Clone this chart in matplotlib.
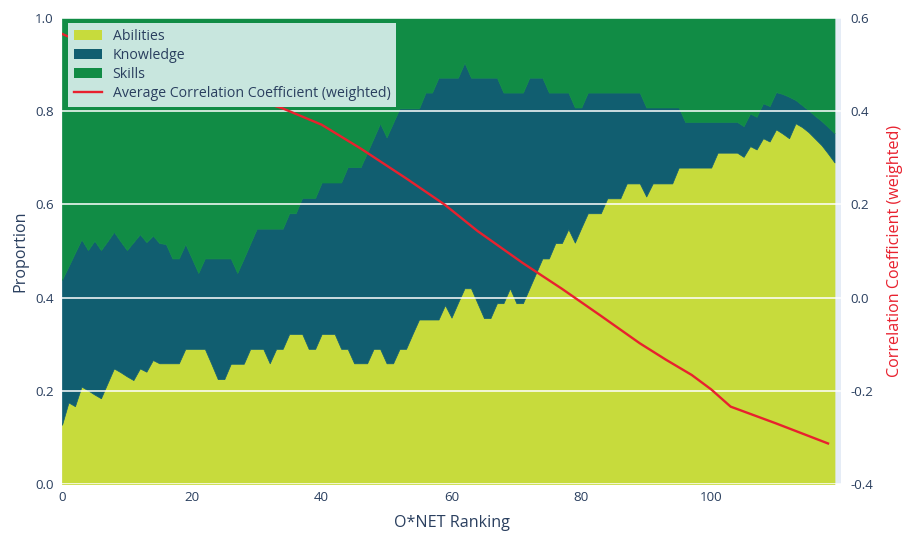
import numpy as np
import matplotlib
matplotlib.use("Agg")
import matplotlib.pyplot as plt
from matplotlib.patches import Patch
from matplotlib.lines import Line2D

plt.rcParams['font.family'] = ['Open Sans', 'DejaVu Sans']

# O*NET ranking positions
ranking = list(range(120))

# Share of each category within the ranking window
abilities = [
    0.127, 0.175, 0.167, 0.209, 0.201, 0.192, 0.184, 0.216, 0.248, 0.240,
    0.231, 0.223, 0.248, 0.241, 0.266, 0.259, 0.259, 0.259, 0.259, 0.290,
    0.290, 0.290, 0.290, 0.258, 0.225, 0.225, 0.258, 0.258, 0.258, 0.290,
    0.290, 0.290, 0.259, 0.290, 0.290, 0.322, 0.322, 0.322, 0.290, 0.290,
    0.322, 0.322, 0.322, 0.290, 0.290, 0.259, 0.259, 0.259, 0.290, 0.290,
    0.259, 0.259, 0.290, 0.290, 0.322, 0.353, 0.353, 0.353, 0.353, 0.384,
    0.357, 0.389, 0.420, 0.420, 0.388, 0.356, 0.356, 0.388, 0.388, 0.420,
    0.388, 0.388, 0.420, 0.452, 0.484, 0.484, 0.517, 0.517, 0.547, 0.518,
    0.550, 0.581, 0.581, 0.581, 0.613, 0.613, 0.613, 0.645, 0.645, 0.645,
    0.617, 0.645, 0.645, 0.645, 0.645, 0.679, 0.679, 0.679, 0.679, 0.679,
    0.679, 0.711, 0.711, 0.711, 0.711, 0.702, 0.725, 0.718, 0.742, 0.735,
    0.761, 0.752, 0.742, 0.774, 0.766, 0.755, 0.741, 0.727, 0.709, 0.690,
]

knowledge = [
    0.311, 0.292, 0.329, 0.316, 0.301, 0.330, 0.318, 0.305, 0.293, 0.281,
    0.271, 0.296, 0.288, 0.278, 0.267, 0.258, 0.256, 0.225, 0.225, 0.225,
    0.194, 0.163, 0.194, 0.226, 0.259, 0.259, 0.226, 0.195, 0.226, 0.226,
    0.258, 0.258, 0.289, 0.258, 0.258, 0.259, 0.259, 0.292, 0.324, 0.324,
    0.325, 0.325, 0.325, 0.357, 0.390, 0.421, 0.421, 0.452, 0.452, 0.484,
    0.485, 0.516, 0.516, 0.516, 0.484, 0.453, 0.487, 0.487, 0.519, 0.488,
    0.515, 0.483, 0.484, 0.452, 0.484, 0.516, 0.516, 0.484, 0.452, 0.420,
    0.452, 0.452, 0.452, 0.420, 0.388, 0.356, 0.323, 0.323, 0.293, 0.290,
    0.258, 0.259, 0.259, 0.259, 0.227, 0.227, 0.227, 0.195, 0.195, 0.195,
    0.191, 0.163, 0.163, 0.163, 0.163, 0.129, 0.098, 0.098, 0.098, 0.098,
    0.098, 0.066, 0.066, 0.066, 0.066, 0.066, 0.070, 0.070, 0.075, 0.076,
    0.080, 0.085, 0.089, 0.050, 0.047, 0.047, 0.049, 0.052, 0.057, 0.063,
]

skills = [
    0.562, 0.533, 0.504, 0.475, 0.498, 0.478, 0.498, 0.479, 0.459, 0.479,
    0.498, 0.481, 0.464, 0.481, 0.467, 0.483, 0.485, 0.516, 0.516, 0.485,
    0.516, 0.547, 0.516, 0.516, 0.516, 0.516, 0.516, 0.547, 0.516, 0.484,
    0.452, 0.452, 0.452, 0.452, 0.452, 0.419, 0.419, 0.386, 0.386, 0.386,
    0.353, 0.353, 0.353, 0.353, 0.320, 0.320, 0.320, 0.289, 0.258, 0.226,
    0.256, 0.225, 0.194, 0.194, 0.194, 0.194, 0.160, 0.160, 0.128, 0.128,
    0.128, 0.128, 0.096, 0.128, 0.128, 0.128, 0.128, 0.128, 0.160, 0.160,
    0.160, 0.160, 0.128, 0.128, 0.128, 0.160, 0.160, 0.160, 0.160, 0.192,
    0.192, 0.160, 0.160, 0.160, 0.160, 0.160, 0.160, 0.160, 0.160, 0.160,
    0.192, 0.192, 0.192, 0.192, 0.192, 0.192, 0.223, 0.223, 0.223, 0.223,
    0.223, 0.223, 0.223, 0.223, 0.223, 0.232, 0.205, 0.212, 0.183, 0.189,
    0.159, 0.163, 0.169, 0.176, 0.187, 0.198, 0.210, 0.221, 0.234, 0.247,
]

# Average correlation coefficient (weighted), secondary axis
corr_ranking = [0, 6, 14, 22, 28, 34, 40, 46, 53, 59, 64, 71, 77, 83, 89, 93, 97, 100, 103, 110, 118]
corr_values = [0.566, 0.530, 0.490, 0.455, 0.432, 0.406, 0.371, 0.320, 0.256, 0.199,
               0.143, 0.074, 0.019, -0.039, -0.098, -0.133, -0.166, -0.197, -0.234, -0.270, -0.313]

series_names = ["Abilities", "Knowledge", "Skills"]
series_colors = ["#c7db3c", "#115e70", "#118c45"]
line_name = "Average Correlation Coefficient (weighted)"
line_color = "#e8212e"
text_color = "#2a3f5f"

W, H = 904, 536
fig = plt.figure(figsize=(W / 100, H / 100), dpi=100)
fig.patch.set_facecolor("white")
left, right, top, bottom = 62, 841, 18, 484
ax = fig.add_axes([left / W, (H - bottom) / H, (right - left) / W, (bottom - top) / H])
ax.set_facecolor("#e5ecf6")

polys = ax.stackplot(ranking, abilities, knowledge, skills, colors=series_colors)
for p, c in zip(polys, series_colors):
    p.set_edgecolor(c)
    p.set_linewidth(0.5)

ax.set_xlim(0, 120)
ax.set_ylim(0, 1)
ax.set_xticks([0, 20, 40, 60, 80, 100])
ax.set_yticks([0.0, 0.2, 0.4, 0.6, 0.8, 1.0])
ax.set_yticklabels([f"{v:.1f}" for v in [0.0, 0.2, 0.4, 0.6, 0.8, 1.0]])
ax.tick_params(length=0, colors=text_color, labelsize=9.6)
ax.tick_params(axis="x", pad=5)
ax.tick_params(axis="y", pad=6)
for s in ax.spines.values():
    s.set_visible(False)
ax.set_xlabel("O*NET Ranking", color=text_color, fontsize=11.6, labelpad=8)
ax.set_ylabel("Proportion", color=text_color, fontsize=11.6, labelpad=5)

ax2 = ax.twinx()
ax2.set_ylim(-0.4, 0.6)
ax2.set_yticks([-0.4, -0.2, 0.0, 0.2, 0.4, 0.6])
ax2.set_yticklabels([f"{v:.1f}" for v in [-0.4, -0.2, 0.0, 0.2, 0.4, 0.6]])
ax2.grid(axis="y", color="white", linewidth=1.1)
ax2.set_axisbelow(True)
ax2.tick_params(length=0, colors=text_color, labelsize=9.6, pad=7)
for s in ax2.spines.values():
    s.set_visible(False)
ax2.plot(corr_ranking, corr_values, color=line_color, linewidth=1.7, zorder=3)
ax2.set_ylabel("Correlation Coefficient (weighted)", color=line_color, fontsize=11.6, labelpad=10)

handles = [Patch(facecolor=c, edgecolor="none") for c in series_colors]
handles.append(Line2D([0], [0], color=line_color, linewidth=1.7))
leg = ax2.legend(handles, series_names + [line_name],
                 loc="upper left", bbox_to_anchor=(68 / W, 1 - 23 / H),
                 bbox_transform=fig.transFigure, frameon=True, fancybox=False,
                 facecolor="#c8e6de", edgecolor="none", framealpha=1.0,
                 fontsize=10.2, borderpad=0.4, labelspacing=0.3,
                 handlelength=2.0, handleheight=0.7, handletextpad=0.75,
                 borderaxespad=0)
for t in leg.get_texts():
    t.set_color(text_color)
leg.set_zorder(10)

fig.savefig("out.png", dpi=100, facecolor="white")
